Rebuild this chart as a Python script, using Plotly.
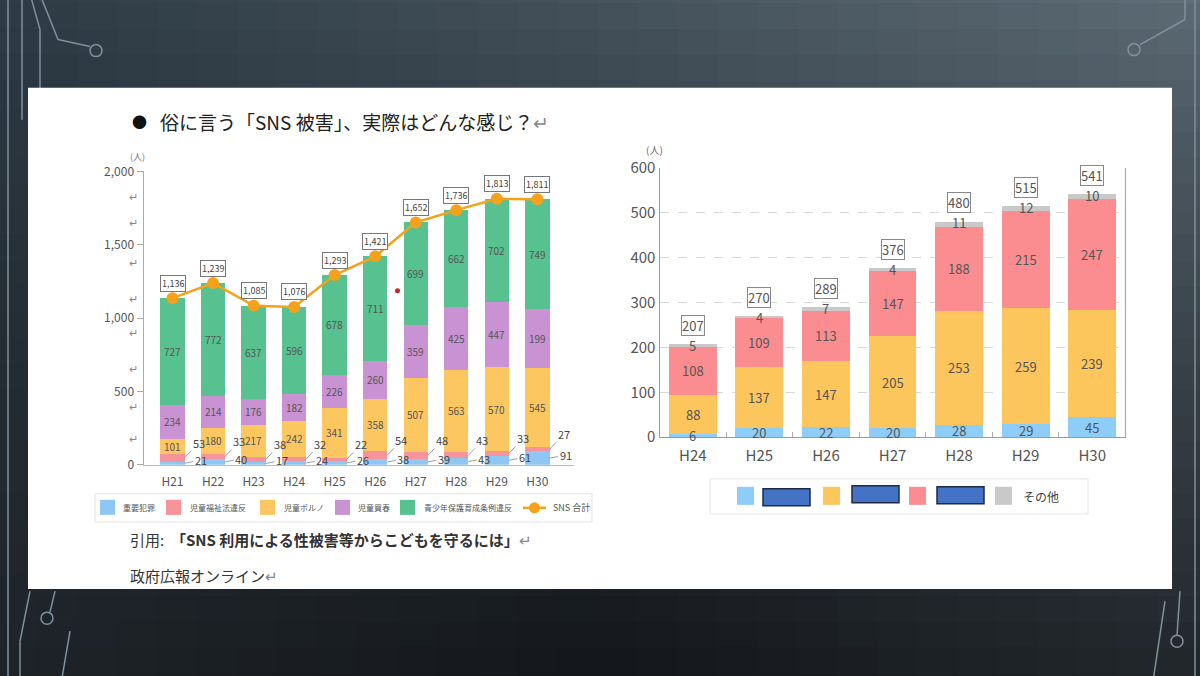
import plotly.graph_objects as go

W, H = 1200, 676
FIG_H = 692
# the captured picture shows the page with a small vertical offset/scale; map reference
# pixel rows to page rows so the picture lines up with the reference
OFF, SC = 12.5, 0.967
def X(px): return px / W
def Y(py): return 1 - ((py - OFF) / SC) / FIG_H

FONT = "Noto Sans CJK JP"

# ---------------- data: left chart ----------------
years_l = ["H21", "H22", "H23", "H24", "H25", "H26", "H27", "H28", "H29", "H30"]
juyo = [21, 40, 17, 24, 26, 38, 39, 43, 61, 91]            # 重要犯罪
fukushi = [53, 33, 38, 32, 22, 54, 48, 43, 33, 27]         # 児童福祉法違反
porno = [101, 180, 217, 242, 341, 358, 507, 563, 570, 545]  # 児童ポルノ
baishun = [234, 214, 176, 182, 226, 260, 359, 425, 447, 399]  # 児童買春
baishun_text = ["234", "214", "176", "182", "226", "260", "359", "425", "447", "199"]
seishonen = [727, 772, 637, 596, 678, 711, 699, 662, 702, 749]  # 青少年保護育成条例違反
sns_total = [1136, 1239, 1085, 1076, 1293, 1421, 1652, 1736, 1813, 1811]
names_l = ["重要犯罪", "児童福祉法違反", "児童ポルノ", "児童買春", "青少年保護育成条例違反", "SNS 合計"]
ticks_l = [0, 500, 1000, 1500, 2000]

# ---------------- data: right chart ----------------
years_r = ["H24", "H25", "H26", "H27", "H28", "H29", "H30"]
r_blue = [6, 20, 22, 20, 28, 29, 45]
r_yellow = [88, 137, 147, 205, 253, 259, 239]
r_pink = [108, 109, 113, 147, 188, 215, 247]
r_gray = [5, 4, 7, 4, 11, 12, 10]
r_total = [207, 270, 289, 376, 480, 515, 541]
ticks_r = [0, 100, 200, 300, 400, 500, 600]

C_L = ["#8fc7f2", "#f7939a", "#fcc760", "#c992d3", "#57c190"]
C_LINE = "#f5a11c"
C_R = ["#8ecdf8", "#fdc65d", "#fb8d90", "#c9c9c9"]

fig = go.Figure()

# ---- left stacked bars ----
for vals, col, nm in zip([juyo, fukushi, porno, baishun, seishonen], C_L, names_l[:5]):
    fig.add_trace(go.Bar(x=years_l, y=vals, marker=dict(color=col, line=dict(width=0)),
                         width=0.6, name=nm, xaxis="x", yaxis="y", showlegend=False))
fig.add_trace(go.Scatter(x=years_l, y=sns_total, mode="lines+markers", name=names_l[5],
                         line=dict(color=C_LINE, width=2.5),
                         marker=dict(size=12, color=C_LINE), xaxis="x", yaxis="y",
                         showlegend=False))

# ---- right stacked bars ----
for vals, col in zip([r_blue, r_yellow, r_pink, r_gray], C_R):
    fig.add_trace(go.Bar(x=years_r, y=vals, marker=dict(color=col, line=dict(width=0)),
                         width=0.72, xaxis="x2", yaxis="y2", showlegend=False))

ann = []
# left labels
lab_font = dict(family=FONT, size=10, color="#555")
for i, yr in enumerate(years_l):
    b0 = juyo[i] + fukushi[i]
    ann.append(dict(x=yr, y=b0 + porno[i] / 2, xref="x", yref="y", text=str(porno[i]),
                    showarrow=False, font=lab_font))
    ann.append(dict(x=yr, y=b0 + porno[i] + baishun[i] / 2, xref="x", yref="y",
                    text=baishun_text[i], showarrow=False, font=lab_font))
    ann.append(dict(x=yr, y=b0 + porno[i] + baishun[i] + seishonen[i] / 2, xref="x", yref="y",
                    text=str(seishonen[i]), showarrow=False, font=lab_font))
    # outside small labels with leader lines
    ann.append(dict(x=i + 0.3, y=juyo[i] + fukushi[i] / 2, xref="x", yref="y",
                    text=str(fukushi[i]), showarrow=True, arrowhead=0, arrowwidth=0.8,
                    arrowcolor="#888", ax=14, ay=-15, font=dict(family=FONT, size=11, color="#444")))
    ann.append(dict(x=i + 0.3, y=juyo[i] / 2, xref="x", yref="y",
                    text=str(juyo[i]), showarrow=True, arrowhead=0, arrowwidth=0.8,
                    arrowcolor="#888", ax=16, ay=-3, font=dict(family=FONT, size=11, color="#444")))
    ann.append(dict(x=yr, y=sns_total[i], xref="x", yref="y", text=f"{sns_total[i]:,}",
                    showarrow=False, yshift=15, bordercolor="#777", borderwidth=1, borderpad=1,
                    bgcolor="white", font=dict(family=FONT, size=9, color="#444")))

# right labels
rfont = dict(family=FONT, size=13, color="#555")
for i, yr in enumerate(years_r):
    ann.append(dict(x=yr, y=r_blue[i] / 2, xref="x2", yref="y2", text=str(r_blue[i]),
                    showarrow=False, font=rfont))
    ann.append(dict(x=yr, y=r_blue[i] + r_yellow[i] / 2, xref="x2", yref="y2",
                    text=str(r_yellow[i]), showarrow=False, font=rfont))
    ann.append(dict(x=yr, y=r_blue[i] + r_yellow[i] + r_pink[i] / 2, xref="x2", yref="y2",
                    text=str(r_pink[i]), showarrow=False, font=rfont))
    ann.append(dict(x=yr, y=r_total[i], xref="x2", yref="y2", text=str(r_gray[i]),
                    showarrow=False, yshift=-1, font=rfont))
    ann.append(dict(x=yr, y=r_total[i], xref="x2", yref="y2", text=str(r_total[i]),
                    showarrow=False, yshift=19, bordercolor="#888", borderwidth=1, borderpad=0,
                    bgcolor="white", font=rfont))

shapes = []
# ---- background gradient tiles ----
def lerp(a, b, t): return tuple(a[k] + (b[k] - a[k]) * t for k in range(3))
TL, TR = (47, 61, 71), (98, 113, 123)
BL, BM, BR = (30, 35, 40), (18, 21, 25), (32, 37, 42)
nx, ny = 30, 28
y_top, y_bot = -20, 700
for ix in range(nx):
    for iy in range(ny):
        tx = (ix + 0.5) / nx
        ty = (iy + 0.5) / ny
        top = lerp(TL, TR, tx)
        if tx < 0.5:
            bot = lerp(BL, BM, tx * 2)
        else:
            bot = lerp(BM, BR, (tx - 0.5) * 2)
        c = lerp(top, bot, ty ** 0.8)
        ya = y_top + iy * (y_bot - y_top) / ny
        yb = y_top + (iy + 1) * (y_bot - y_top) / ny
        shapes.append(dict(type="rect", xref="paper", yref="paper", layer="below",
                           x0=X(ix * W / nx - 2), x1=X((ix + 1) * W / nx + 2),
                           y0=Y(yb + 2), y1=Y(ya - 2),
                           fillcolor="rgb(%d,%d,%d)" % tuple(int(v) for v in c),
                           line=dict(width=0)))

# circuit decorations
LC = "#7f919c"
def seg(pts, w=1.5):
    for (a, b), (c, d) in zip(pts[:-1], pts[1:]):
        shapes.append(dict(type="line", xref="paper", yref="paper", layer="below",
                           x0=X(a), y0=Y(b), x1=X(c), y1=Y(d), line=dict(color=LC, width=w)))
def circ(cx, cy, r=6):
    shapes.append(dict(type="circle", xref="paper", yref="paper", layer="below",
                       x0=X(cx - r), x1=X(cx + r), y0=Y(cy + r), y1=Y(cy - r),
                       line=dict(color=LC, width=1.5)))
seg([(8, -20), (8, 700)])
seg([(22, -20), (22, 120)])
seg([(34, -20), (58, 40), (90, 47)])
circ(96, 51)
seg([(26, -20), (40, 30), (40, 90)])
seg([(1195, -20), (1195, 700)])
seg([(1185, -20), (1185, 20), (1140, 45)])
circ(1134, 50)
seg([(1180, 590), (1177, 634)])
circ(1177, 640)
seg([(30, 590), (20, 640), (20, 700)])
seg([(55, 590), (50, 611)])
circ(47, 617)
seg([(70, 630), (58, 700)])
seg([(1165, 600), (1150, 700)])

# white panel
shapes.append(dict(type="rect", xref="paper", yref="paper", layer="below",
                   x0=X(28), x1=X(1172), y0=Y(588), y1=Y(88),
                   fillcolor="white", line=dict(width=0)))
# right chart right border
shapes.append(dict(type="line", xref="paper", yref="paper", x0=X(1125.5), x1=X(1125.5),
                   y0=Y(436.5), y1=Y(168), line=dict(color="#aaa", width=1.2)))
# red dot
shapes.append(dict(type="circle", xref="paper", yref="paper", x0=X(395), x1=X(400),
                   y0=Y(293), y1=Y(288), fillcolor="#d42020", line=dict(width=0)))

def pann(x, y, text, size, color="#555", xanchor="left"):
    ann.append(dict(x=X(x), y=Y(y), xref="paper", yref="paper", text=text,
                    xanchor=xanchor, yanchor="middle", showarrow=False,
                    font=dict(family=FONT, size=size, color=color)))

# ---- left legend (manual) ----
shapes.append(dict(type="rect", xref="paper", yref="paper", x0=X(95), x1=X(592),
                   y0=Y(521), y1=Y(493), line=dict(color="#e2e2e2", width=1), fillcolor="white"))
leg_sq_x = [100, 166, 260, 335, 400]
leg_tx_x = [121, 188, 282, 356, 422]
for sx, col in zip(leg_sq_x, C_L):
    shapes.append(dict(type="rect", xref="paper", yref="paper", x0=X(sx), x1=X(sx + 15),
                       y0=Y(514), y1=Y(499), fillcolor=col, line=dict(width=0)))
for tx, nm in zip(leg_tx_x, names_l[:5]):
    pann(tx, 507, nm, 8)
shapes.append(dict(type="line", xref="paper", yref="paper", x0=X(523), x1=X(546),
                   y0=Y(507), y1=Y(507), line=dict(color=C_LINE, width=2.5)))
shapes.append(dict(type="circle", xref="paper", yref="paper", x0=X(529), x1=X(540),
                   y0=Y(512.5), y1=Y(501.5), fillcolor=C_LINE, line=dict(width=0)))
pann(551, 507, names_l[5], 9)

# ---- right legend (manual, labels redacted) ----
shapes.append(dict(type="rect", xref="paper", yref="paper", x0=X(710), x1=X(1088),
                   y0=Y(513), y1=Y(478), line=dict(color="#e6e6e6", width=1), fillcolor="white"))
for sx, col in zip([737, 823, 909, 995], C_R):
    shapes.append(dict(type="rect", xref="paper", yref="paper", x0=X(sx), x1=X(sx + 17),
                       y0=Y(504), y1=Y(486), fillcolor=col, line=dict(width=0)))
for rx0, ry0, ry1 in [(763, 488, 505), (852, 485, 502), (937, 486, 503)]:
    shapes.append(dict(type="rect", xref="paper", yref="paper", x0=X(rx0), x1=X(rx0 + 47),
                       y0=Y(ry1), y1=Y(ry0), fillcolor="#4472c4",
                       line=dict(color="#1d2b48", width=1.5)))
pann(1021, 496, "その他", 12, "#444")

# ---- texts ----
pann(130, 122, "●", 15, "#111")
pann(158, 122, "俗に言う「SNS 被害」、実際はどんな感じ？<span style='color:#888'>↵</span>", 19, "#222")
pann(128, 539, "引用:  <b>「SNS 利用による性被害等からこどもを守るには」</b><span style='color:#888'>↵</span>",
     15, "#333")
pann(128, 574, "政府広報オンライン<span style='color:#888'>↵</span>", 15, "#333")
pann(137, 157, "(人)", 9, "#777", xanchor="center")
pann(655, 150, "(人)", 10, "#666", xanchor="center")
for ry in [196, 222, 262, 298, 332, 368, 405, 437]:
    pann(133, ry, "↵", 11, "#888", xanchor="center")

fig.update_layout(
    width=W, height=FIG_H, margin=dict(l=0, r=0, t=0, b=0),
    paper_bgcolor="#3a4852", plot_bgcolor="rgba(0,0,0,0)",
    barmode="stack", bargap=0.4, showlegend=False,
    font=dict(family=FONT),
    xaxis=dict(domain=[X(143.5), X(573.5)], anchor="y", type="category",
               showline=True, linecolor="#bbb", linewidth=1, ticks="",
               ticklabelstandoff=6,
               tickfont=dict(size=12, color="#555"), showgrid=False),
    yaxis=dict(domain=[Y(464), Y(171.5)], anchor="x", range=[0, 2000], tickvals=ticks_l,
               tickformat=",", showline=True, linecolor="#aaa", linewidth=1,
               ticks="outside", ticklen=6, tickcolor="#aaa",
               tickfont=dict(size=12, color="#555"), showgrid=False, zeroline=False),
    xaxis2=dict(domain=[X(659.5), X(1125.5)], anchor="y2", type="category",
                showline=True, linecolor="#999", linewidth=1.2,
                ticks="inside", tickson="boundaries", ticklen=5, tickcolor="#aaa",
                ticklabelstandoff=5,
                tickfont=dict(size=15, color="#555"), showgrid=False),
    yaxis2=dict(domain=[Y(436.5), Y(168)], anchor="x2", range=[0, 600], tickvals=ticks_r,
                showline=True, linecolor="#999", linewidth=1.2, ticks="",
                tickfont=dict(size=15, color="#555"),
                showgrid=True, gridcolor="#d8d8d8", griddash="dash", gridwidth=1,
                zeroline=False),
    shapes=shapes, annotations=ann,
)

post = ("document.body.style.margin='0';"
        "document.documentElement.style.background='#3a4852';")
fig.write_html("out.html", config={"displayModeBar": False}, post_script=post)
